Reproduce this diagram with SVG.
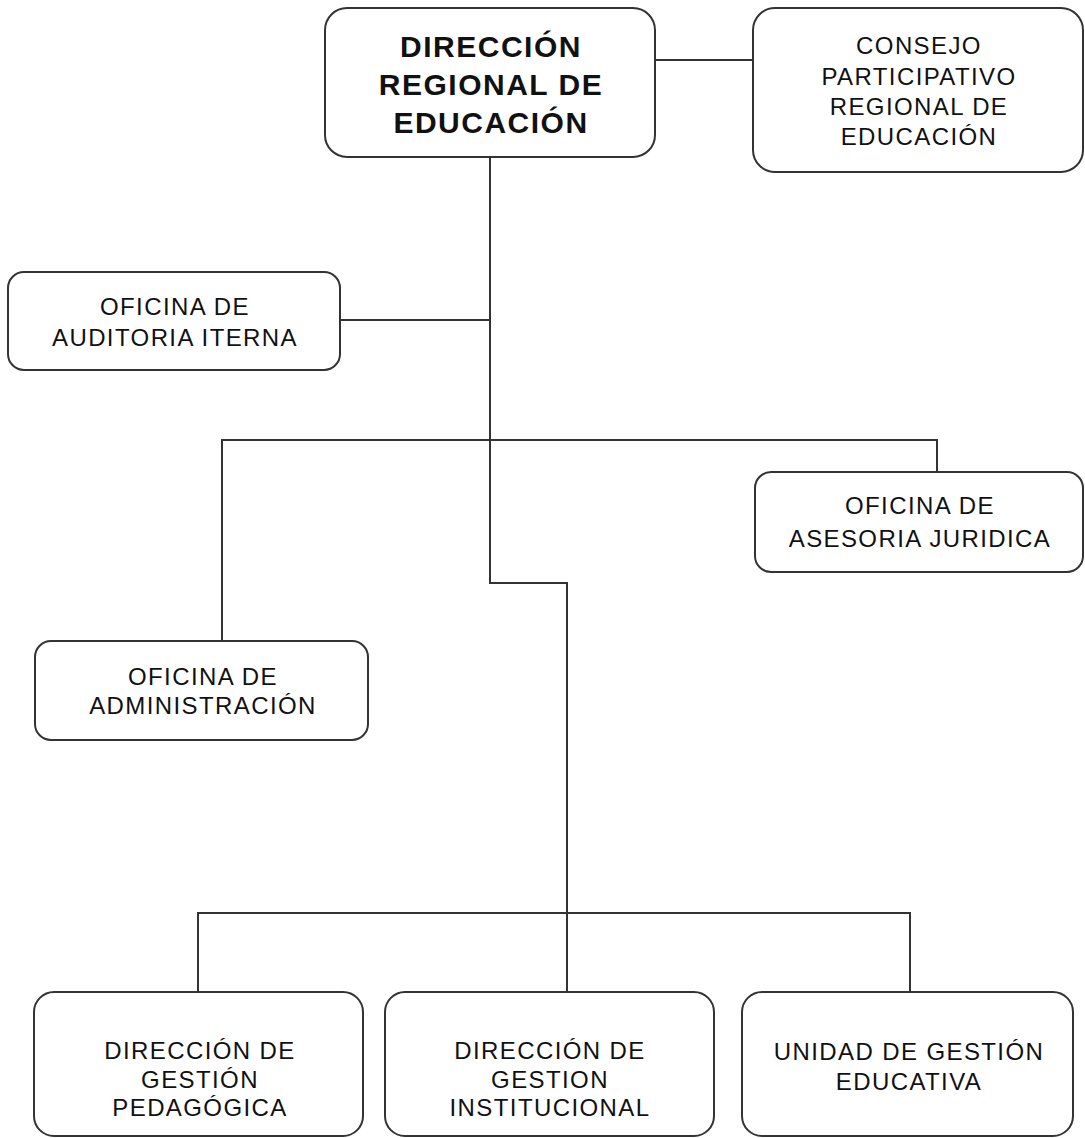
<svg xmlns="http://www.w3.org/2000/svg" width="1085" height="1138" viewBox="0 0 1085 1138">
<style>
.box{fill:#fff;stroke:#333;stroke-width:2}
.t{font-family:"Liberation Sans",Arial,sans-serif;font-size:24px;fill:#111;text-anchor:middle;letter-spacing:1.4px}
.tb{font-family:"Liberation Sans",Arial,sans-serif;font-size:30px;font-weight:bold;fill:#111;text-anchor:middle;letter-spacing:1.5px}
.c{fill:none;stroke:#333;stroke-width:2}
</style>
<rect width="1085" height="1138" fill="#fff"/>
<g id="connectors">
<path class="c" d="M655 60H753"/>
<path class="c" d="M490 157V583H567V992"/>
<path class="c" d="M340 320H490"/>
<path class="c" d="M222 641V440H937V472"/>
<path class="c" d="M198 992V913H910V992"/>
</g>
<g id="n-direccion">
<rect class="box" x="325" y="8" width="330" height="149" rx="22"/>
<text class="tb" x="491" y="57">DIRECCIÓN</text>
<text class="tb" x="491" y="95">REGIONAL DE</text>
<text class="tb" x="491" y="133">EDUCACIÓN</text>
</g>
<g id="n-consejo">
<rect class="box" x="753" y="8" width="330" height="164" rx="22"/>
<text class="t" x="919" y="54">CONSEJO</text>
<text class="t" x="919" y="85">PARTICIPATIVO</text>
<text class="t" x="919" y="115">REGIONAL DE</text>
<text class="t" x="919" y="145">EDUCACIÓN</text>
</g>
<g id="n-auditoria">
<rect class="box" x="8" y="272" width="332" height="98" rx="16"/>
<text class="t" x="175" y="315">OFICINA DE</text>
<text class="t" x="175" y="346">AUDITORIA ITERNA</text>
</g>
<g id="n-juridica">
<rect class="box" x="755" y="472" width="328" height="100" rx="16"/>
<text class="t" x="920" y="514">OFICINA DE</text>
<text class="t" x="920" y="547">ASESORIA JURIDICA</text>
</g>
<g id="n-administracion">
<rect class="box" x="35" y="641" width="333" height="99" rx="16"/>
<text class="t" x="203" y="685">OFICINA DE</text>
<text class="t" x="203" y="714">ADMINISTRACIÓN</text>
</g>
<g id="n-pedagogica">
<rect class="box" x="34" y="992" width="329" height="144" rx="20"/>
<text class="t" x="200" y="1059">DIRECCIÓN DE</text>
<text class="t" x="200" y="1088">GESTIÓN</text>
<text class="t" x="200" y="1116">PEDAGÓGICA</text>
</g>
<g id="n-institucional">
<rect class="box" x="385" y="992" width="329" height="144" rx="20"/>
<text class="t" x="550" y="1059">DIRECCIÓN DE</text>
<text class="t" x="550" y="1088">GESTION</text>
<text class="t" x="550" y="1116">INSTITUCIONAL</text>
</g>
<g id="n-uge">
<rect class="box" x="742" y="992" width="331" height="144" rx="20"/>
<text class="t" x="909" y="1060">UNIDAD DE GESTIÓN</text>
<text class="t" x="909" y="1090">EDUCATIVA</text>
</g>
</svg>
